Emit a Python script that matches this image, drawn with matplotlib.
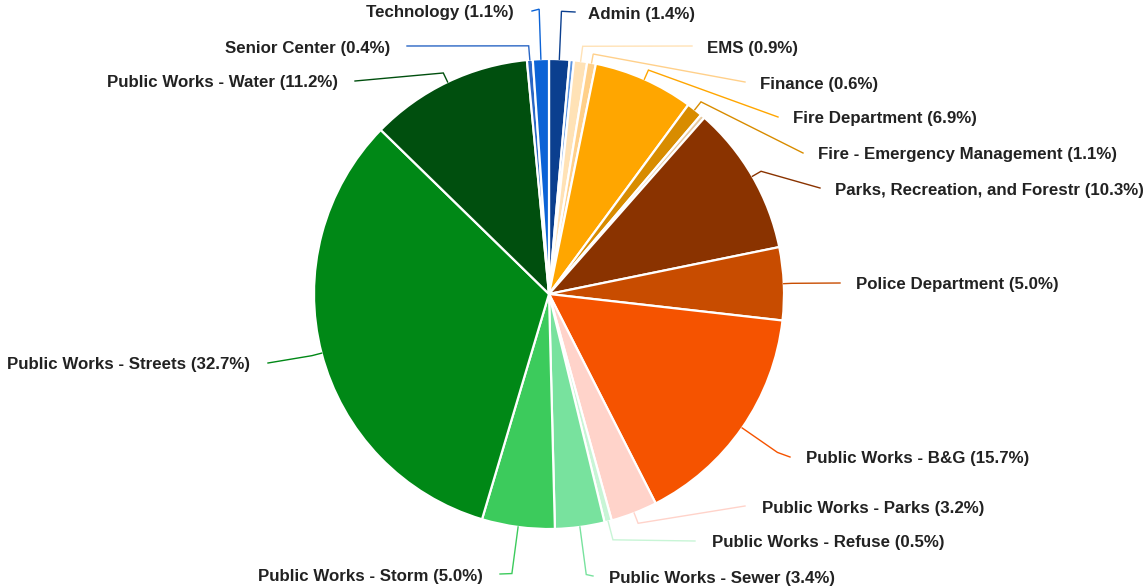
import numpy as np
import matplotlib.pyplot as plt

W, H = 1148, 588

# --- data (two unlabeled slivers sit between Admin/EMS and Fire EM/Parks) ---
departments = ["Admin", "", "EMS", "Finance", "Fire Department",
               "Fire - Emergency Management", "", "Parks, Recreation, and Forestr",
               "Police Department", "Public Works - B&G", "Public Works - Parks",
               "Public Works - Refuse", "Public Works - Sewer", "Public Works - Storm",
               "Public Works - Streets", "Public Works - Water", "Senior Center",
               "Technology"]
shares = [1.4, 0.3, 0.9, 0.6, 6.9, 1.1, 0.3, 10.3, 5.0, 15.7, 3.2, 0.5, 3.4,
          5.0, 32.7, 11.2, 0.4, 1.1]
colors = ["#0b3f8f", "#5a93e0", "#ffe2b6", "#ffd08a", "#ffa600", "#d88c00",
          "#e6c9a0", "#8a3300", "#c84c00", "#f55300", "#ffd3ca", "#c8f5d6",
          "#78e29e", "#3ccb5c", "#008816", "#004f0e", "#2a66c4", "#0c63d6"]

# label layout in pixels from top: radial stub, line end x, line y, text x
layout = [
    (48, 575, 12, 588), None, (15, 692, 46, 707), (9, 745, 82, 760),
    (10, 778, 117, 793), (10, 803, 153, 818), None, (10, 820, 188, 835),
    (8, 840, 283, 856), (43, 790, 457, 806), (11, 745, 506, 762),
    (19, 695, 541, 712), (48, 593, 576, 609), (47, 500, 574, 483),
    (10, 268, 363, 250), (10, 355, 81, 338), (14, 407, 46, 390),
    (50, 532, 11, 514),
]

CX, CY, R = 549, H - 294, 235

fig = plt.figure(figsize=(W / 100, H / 100), dpi=100)
ax = fig.add_axes([0, 0, 1, 1])

wedges, _ = ax.pie(shares, colors=colors, startangle=90, counterclock=False,
                   center=(CX, CY), radius=R, frame=True,
                   wedgeprops=dict(edgecolor="white", linewidth=1.6))
ax.set_xlim(0, W)
ax.set_ylim(0, H)
ax.set_aspect("equal")
ax.axis("off")

for w, name, share, col, lay in zip(wedges, departments, shares, colors, layout):
    if lay is None:
        continue
    stub, end_x, line_y, text_x = lay
    mid = np.deg2rad((w.theta1 + w.theta2) / 2)
    x0, y0 = CX + R * np.cos(mid), CY + R * np.sin(mid)
    x1, y1 = CX + (R + stub) * np.cos(mid), CY + (R + stub) * np.sin(mid)
    ax.plot([x0, x1, end_x], [y0, y1, H - line_y], color=col, lw=1.0,
            solid_joinstyle="miter", zorder=1)
    ha = "left" if text_x > end_x else "right"
    ax.text(text_x, H - line_y - 2, f"{name} ({share:.1f}%)", ha=ha, va="center",
            fontsize=12.2, fontweight="bold", color="#222222",
            family=["Liberation Sans", "DejaVu Sans"])

fig.savefig("out.png", dpi=100, facecolor="white")
